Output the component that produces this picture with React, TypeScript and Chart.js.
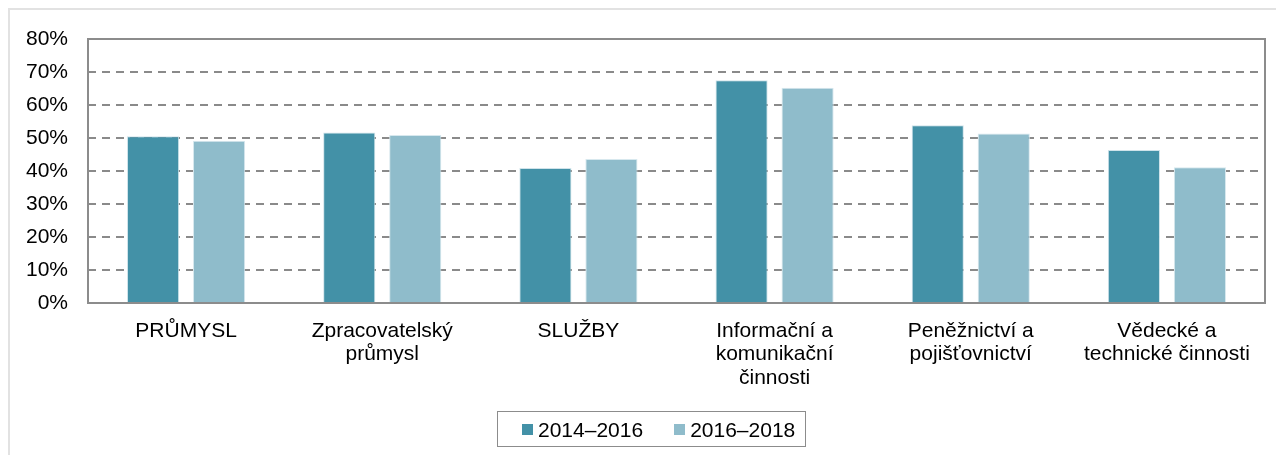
import React, { useEffect, useRef } from "react";
import { Chart, registerables } from "chart.js";

Chart.register(...registerables);

const categories: string[][] = [
  ["PRŮMYSL"],
  ["Zpracovatelský", "průmysl"],
  ["SLUŽBY"],
  ["Informační a", "komunikační", "činnosti"],
  ["Peněžnictví a", "pojišťovnictví"],
  ["Vědecké a", "technické činnosti"],
];
const seriesNames = ["2014–2016", "2016–2018"];
const series2014_2016 = [50.5, 51.7, 40.9, 67.5, 53.9, 46.4];
const series2016_2018 = [49.2, 50.9, 43.6, 65.2, 51.4, 41.1];
const colors = ["#4391A7", "#8FBCCB"];
const FONT = "'Liberation Sans', Arial, sans-serif";

const framePlugin = {
  id: "frame",
  afterDatasetsDraw(chart: any) {
    const { ctx, chartArea: a } = chart;
    ctx.save();
    ctx.strokeStyle = "#8c8c8c";
    ctx.lineWidth = 2;
    ctx.setLineDash([]);
    ctx.strokeRect(a.left, a.top, a.right - a.left, a.bottom - a.top);
    ctx.restore();
  },
};

export default function App() {
  const ref = useRef<HTMLCanvasElement>(null);
  useEffect(() => {
    if (!ref.current) return;
    const chart = new Chart(ref.current, {
      type: "bar",
      data: {
        labels: categories,
        datasets: [
          {
            label: seriesNames[0],
            data: series2014_2016,
            backgroundColor: colors[0],
            borderColor: "#cfe3ea",
            borderWidth: 1,
            categoryPercentage: 0.673,
            barPercentage: 0.79,
          },
          {
            label: seriesNames[1],
            data: series2016_2018,
            backgroundColor: colors[1],
            borderColor: "#d7e8ee",
            borderWidth: 1,
            categoryPercentage: 0.673,
            barPercentage: 0.79,
          },
        ],
      },
      options: {
        animation: false,
        responsive: false,
        maintainAspectRatio: false,
        layout: { padding: { left: 0, right: 19, top: 29, bottom: 0 } },
        plugins: {
          legend: { display: false },
          tooltip: { enabled: false },
        },
        scales: {
          x: {
            grid: { display: false },
            border: { display: false },
            ticks: {
              autoSkip: false,
              maxRotation: 0,
              minRotation: 0,
              padding: 8,
              color: "#000",
              font: { family: FONT, size: 21, lineHeight: 1.12 },
            },
            afterFit: (s: any) => {
              s.height = 152;
            },
          },
          y: {
            min: 0,
            max: 80,
            border: { display: false, dash: [8, 6] },
            grid: {
              drawTicks: false,
              lineWidth: 2,
              color: (c: any) =>
                c.tick && (c.tick.value === 0 || c.tick.value === 80)
                  ? "rgba(0,0,0,0)"
                  : "#8a8a8a",
            },
            ticks: {
              stepSize: 10,
              padding: 20,
              color: "#000",
              font: { family: FONT, size: 21 },
              callback: (v: any) => v + "%",
            },
            afterFit: (s: any) => {
              s.width = 78;
              s.paddingTop = 12;
              s.paddingBottom = 12;
            },
          },
        },
      },
      plugins: [framePlugin],
    });
    return () => chart.destroy();
  }, []);

  const legendItem = (i: number, ml: number) => (
    <div style={{ display: "flex", alignItems: "center", marginLeft: ml }}>
      <span
        style={{
          display: "inline-block",
          width: 11,
          height: 11,
          background: colors[i],
          marginRight: 5,
        }}
      />
      <span>{seriesNames[i]}</span>
    </div>
  );

  return (
    <div
      style={{
        position: "relative",
        width: 1290,
        height: 460,
        boxSizing: "border-box",
        borderTop: "2px solid #e2e2e2",
        borderLeft: "2px solid #e2e2e2",
        fontFamily: FONT,
      }}
    >
      <canvas ref={ref} width={1274} height={445} style={{ display: "block" }} />
      <div
        style={{
          position: "absolute",
          left: 487,
          top: 401,
          width: 309,
          height: 36,
          boxSizing: "border-box",
          border: "1px solid #8c8c8c",
          display: "flex",
          alignItems: "center",
          fontSize: 21,
          color: "#000",
          lineHeight: "21px",
          paddingTop: 1,
        }}
      >
        {legendItem(0, 24)}
        {legendItem(1, 31)}
      </div>
    </div>
  );
}
